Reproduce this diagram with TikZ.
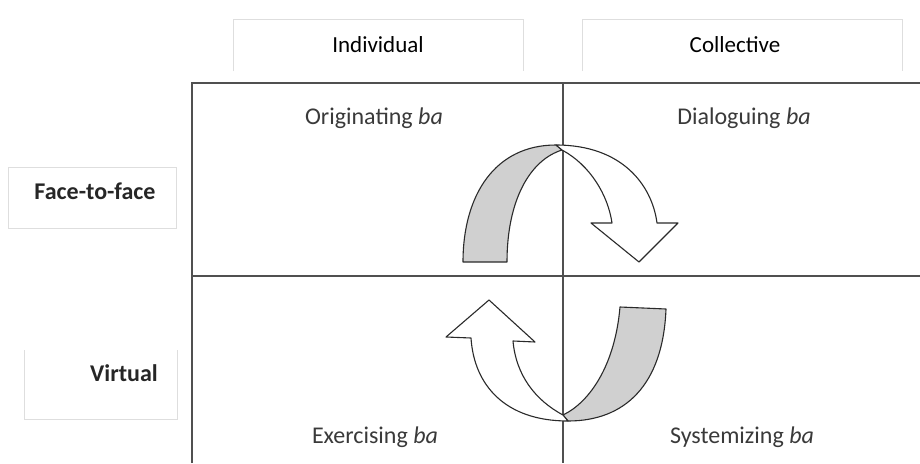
\documentclass[tikz,border=0pt]{standalone}
\usepackage{fontspec}
\setmainfont{Carlito}
\definecolor{gridc}{HTML}{505050}
\definecolor{hdrc}{HTML}{DEDEDE}
\definecolor{bandc}{HTML}{D0D0D0}
\definecolor{edgec}{HTML}{2A2A2A}
\definecolor{txtc}{HTML}{3A3A3A}
\begin{document}
\begin{tikzpicture}[x=1pt,y=-1pt,
  hdrbox/.style={draw=hdrc,line width=0.9pt},
  gridline/.style={draw=gridc,line width=1.7pt},
  hdrtext/.style={font=\fontsize{23}{26}\selectfont,text=black,inner sep=0pt},
  sidetext/.style={font=\fontsize{24}{28}\selectfont\bfseries,text=black!85,inner sep=0pt},
  celltext/.style={font=\fontsize{24}{28}\selectfont,text=txtc,inner sep=0pt},
  band/.style={fill=bandc,draw=edgec,line width=1.1pt,line join=round},
  wband/.style={fill=white,draw=edgec,line width=1.1pt,line join=round}]
\useasboundingbox (0,0) rectangle (920,463);
\fill[white] (0,0) rectangle (920,463);
% header boxes
\draw[hdrbox] (233,71) -- (233,19) -- (523,19) -- (523,71);
\draw[hdrbox] (582,71) -- (582,19) -- (902,19) -- (902,71);
\draw[hdrbox] (8,167) rectangle (176,228);
\draw[hdrbox] (24,350) -- (24,419) -- (177,419) -- (177,350);
\node[hdrtext] (ind) at (378,45) {Individual};
\node[hdrtext] (col) at (735,45) {Collective};
\node[sidetext] (f2f) at (95,191) {Face-to-face};
\node[sidetext] (vir) at (124,373) {Virtual};
% grid
\draw[gridline] (192,463) -- (192,83) -- (920,83);
\draw[gridline] (563,83) -- (563,463);
\draw[gridline] (192,276) -- (920,276);
% cell labels
\node[celltext] (orig) at (374,118) {Originating \textit{ba}};
\node[celltext] (dial) at (744,118) {Dialoguing \textit{ba}};
\node[celltext] (exer) at (375,437) {Exercising \textit{ba}};
\node[celltext] (syst) at (742,437) {Systemizing \textit{ba}};
% top arrow
\coordinate (T) at (556,145);
\coordinate (J) at (562,150);
\draw[band] (463,262) .. controls (463,195) and (495,145) .. (T) -- (J)
  .. controls (530,160) and (507,200) .. (507,262) -- cycle;
\draw[wband] (T) .. controls (622,145) and (652,185) .. (657,223) -- (678,223)
  -- (639,262) -- (591,223) -- (612,223) .. controls (608,195) and (590,165) .. (J) -- cycle;
% bottom arrow
\coordinate (B) at (568,421);
\coordinate (J2) at (563,415);
\draw[band] (620,307) -- (666,309) .. controls (663,385) and (625,421) .. (B) -- (J2)
  .. controls (590,402) and (615,365) .. (620,307) -- cycle;
\draw[wband] (B) .. controls (505,421) and (474,385) .. (471,338) -- (446,337)
  -- (489,300) -- (535,342) -- (513,341) .. controls (516,375) and (535,400) .. (J2) -- cycle;
\end{tikzpicture}
\end{document}
